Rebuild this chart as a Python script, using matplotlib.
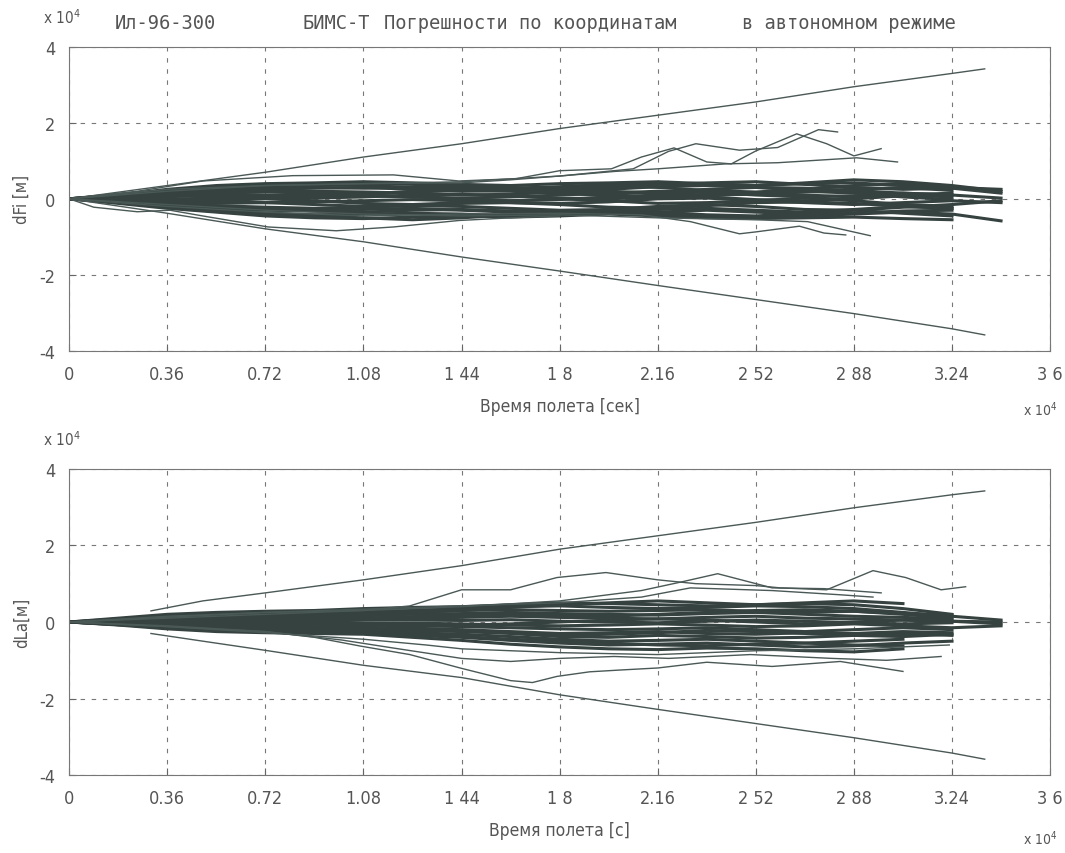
import matplotlib.pyplot as plt
import numpy as np

plt.rcParams['font.family'] = ['DejaVu Sans']
plt.rcParams['font.stretch'] = 'condensed'
plt.rcParams['axes.unicode_minus'] = False

# время, единицы 1e4 с
T = [0, 0.18, 0.36, 0.54, 0.72, 0.90, 1.08, 1.26, 1.44, 1.62,
     1.80, 1.98, 2.16, 2.34, 2.52, 2.70, 2.88, 3.06, 3.24, 3.42]

xticks = [0, 0.36, 0.72, 1.08, 1.44, 1.8, 2.16, 2.52, 2.88, 3.24, 3.6]
xticklabels = ['0', '0.36', '0.72', '1.08', '1 44', '1 8', '2.16', '2 52', '2 88', '3.24', '3 6']
yticks = [-4, -2, 0, 2, 4]

# ---------- dFi, единицы 1e4 м ----------
fi_band = [
    [0, 0.1, 0.25, 0.35, 0.4, 0.42, 0.45, 0.42, 0.38, 0.35, 0.4, 0.42, 0.45, 0.4, 0.35, 0.42, 0.5, 0.45, 0.35, 0.2],
    [0, 0.12, 0.22, 0.3, 0.32, 0.3, 0.28, 0.3, 0.33, 0.3, 0.25, 0.3, 0.38, 0.42, 0.45, 0.38, 0.3, 0.25, 0.28],
    [0, 0.08, 0.15, 0.2, 0.25, 0.28, 0.3, 0.25, 0.2, 0.22, 0.3, 0.35, 0.3, 0.22, 0.18, 0.25, 0.35, 0.4, 0.3, 0.25],
    [0, 0.05, 0.1, 0.15, 0.18, 0.15, 0.12, 0.18, 0.22, 0.2, 0.15, 0.12, 0.18, 0.25, 0.3, 0.28, 0.2, 0.1, 0.05],
    [0, 0.04, 0.06, 0.08, 0.05, 0.02, 0.05, 0.1, 0.12, 0.08, 0.02, 0.0, 0.05, 0.12, 0.15, 0.1, 0.05, 0.1, 0.15],
    [0, 0.02, 0.0, -0.02, 0.02, 0.06, 0.08, 0.05, 0.0, -0.05, -0.02, 0.05, 0.1, 0.05, -0.02, -0.05, 0.0, 0.08],
    [0, -0.02, -0.05, -0.08, -0.1, -0.08, -0.05, -0.02, -0.05, -0.1, -0.12, -0.08, 0.0, 0.02, -0.05, -0.1, -0.15, -0.1, -0.05, -0.1],
    [0, -0.05, -0.1, -0.12, -0.1, -0.15, -0.2, -0.18, -0.12, -0.1, -0.15, -0.22, -0.25, -0.18, -0.1, -0.08, -0.12, -0.2, -0.25],
    [0, -0.06, -0.12, -0.18, -0.22, -0.25, -0.22, -0.18, -0.2, -0.25, -0.3, -0.28, -0.2, -0.15, -0.2, -0.28, -0.3, -0.22, -0.15, -0.05],
    [0, -0.08, -0.18, -0.25, -0.3, -0.32, -0.35, -0.3, -0.28, -0.32, -0.35, -0.38, -0.35, -0.3, -0.35, -0.4, -0.38, -0.32, -0.3],
    [0, -0.1, -0.2, -0.3, -0.38, -0.42, -0.4, -0.38, -0.4, -0.45, -0.42, -0.38, -0.4, -0.45, -0.48, -0.45, -0.4, -0.35, -0.4, -0.58],
    [0, -0.12, -0.25, -0.35, -0.45, -0.5, -0.52, -0.48, -0.45, -0.48, -0.45, -0.4, -0.45, -0.5, -0.52, -0.5, -0.48, -0.52, -0.55],
    [0, 0.06, 0.12, 0.18, 0.22, 0.2, 0.18, 0.15, 0.1, 0.12, 0.18, 0.2, 0.15, 0.1, 0.12, 0.18, 0.22, 0.15, 0.1],
    [0, -0.03, -0.02, 0.03, 0.08, 0.12, 0.1, 0.05, 0.02, 0.05, 0.1, 0.15, 0.2, 0.18, 0.1, 0.05, 0.08, 0.15, 0.1, 0.02],
    [0, -0.04, -0.08, -0.05, 0.0, -0.05, -0.12, -0.15, -0.1, -0.05, 0.0, -0.05, -0.12, -0.1, -0.05, 0.02, -0.05, -0.15, -0.2],
    [0, 0.1, 0.2, 0.28, 0.35, 0.38, 0.35, 0.3, 0.28, 0.25, 0.2, 0.25, 0.32, 0.35, 0.3, 0.22, 0.25, 0.3, 0.22],
    [0, -0.07, -0.15, -0.22, -0.28, -0.3, -0.28, -0.25, -0.3, -0.35, -0.38, -0.32, -0.28, -0.25, -0.3, -0.35, -0.28, -0.2, -0.25],
    [0, 0.03, 0.08, 0.12, 0.1, 0.08, 0.12, 0.2, 0.25, 0.22, 0.15, 0.08, 0.05, 0.08, 0.15, 0.2, 0.15, 0.05, -0.02],
    [0, -0.09, -0.22, -0.32, -0.4, -0.45, -0.5, -0.55, -0.5, -0.42, -0.35, -0.3, -0.35, -0.42, -0.45, -0.38, -0.3, -0.38, -0.45],
    [0, 0.09, 0.18, 0.25, 0.3, 0.35, 0.4, 0.38, 0.32, 0.28, 0.32, 0.38, 0.42, 0.38, 0.35, 0.4, 0.42, 0.35, 0.28, 0.15],
]

# отдельные траектории dFi (время, значение)
fi_up1_t = [0, 0.25, 0.49, 0.82, 1.19, 1.43, 1.64, 1.8, 1.99, 2.1, 2.22, 2.34, 2.43, 2.52, 2.67, 2.78, 2.88, 2.98]
fi_up1_v = [0, 0.2, 0.47, 0.61, 0.63, 0.47, 0.53, 0.74, 0.79, 1.1, 1.34, 0.97, 0.92, 1.26, 1.71, 1.45, 1.13, 1.32]
fi_up2_t = [0, 0.36, 0.72, 1.08, 1.44, 1.8, 2.07, 2.2, 2.3, 2.46, 2.6, 2.75, 2.82]
fi_up2_v = [0, 0.25, 0.35, 0.4, 0.45, 0.6, 0.79, 1.25, 1.45, 1.28, 1.35, 1.82, 1.76]
fi_up3_t = [0, 0.36, 0.72, 1.08, 1.44, 1.62, 1.8, 2.0, 2.16, 2.41, 2.6, 2.89, 3.04]
fi_up3_v = [0, 0.2, 0.35, 0.4, 0.42, 0.5, 0.6, 0.72, 0.79, 0.92, 0.95, 1.08, 0.97]
fi_lo1_t = [0, 0.09, 0.25, 0.37, 0.49, 0.73, 0.98, 1.19, 1.43, 1.62, 1.8]
fi_lo1_v = [0, -0.22, -0.34, -0.3, -0.45, -0.74, -0.84, -0.74, -0.57, -0.5, -0.45]
fi_lo2_t = [0, 0.36, 0.72, 1.08, 1.44, 1.8, 2.1, 2.28, 2.46, 2.52, 2.68, 2.77, 2.85]
fi_lo2_v = [0, -0.2, -0.35, -0.45, -0.4, -0.38, -0.42, -0.6, -0.92, -0.87, -0.72, -0.9, -0.95]
fi_lo3_t = [0, 0.36, 0.72, 1.08, 1.44, 1.8, 2.16, 2.52, 2.71, 2.94]
fi_lo3_v = [0, -0.15, -0.3, -0.4, -0.45, -0.42, -0.5, -0.55, -0.6, -0.97]

# границы ошибки dFi
fi_bnd_t = [0, 0.36, 0.72, 1.08, 1.44, 1.8, 2.16, 2.52, 2.88, 3.24, 3.36]
fi_bnd_hi = [0, 0.35, 0.7, 1.1, 1.45, 1.85, 2.2, 2.55, 2.95, 3.3, 3.42]
fi_bnd_lo = [0, -0.38, -0.79, -1.13, -1.53, -1.9, -2.28, -2.65, -3.02, -3.42, -3.58]

# ---------- dLa, единицы 1e4 м ----------
la_band = [
    [0, 0.1, 0.2, 0.25, 0.28, 0.3, 0.35, 0.38, 0.4, 0.45, 0.5, 0.48, 0.45, 0.42, 0.45, 0.48, 0.45, 0.35, 0.2],
    [0, 0.08, 0.15, 0.2, 0.22, 0.25, 0.28, 0.3, 0.35, 0.4, 0.42, 0.38, 0.35, 0.38, 0.42, 0.4, 0.35, 0.25, 0.15, 0.05],
    [0, 0.06, 0.12, 0.15, 0.18, 0.2, 0.22, 0.25, 0.3, 0.32, 0.3, 0.28, 0.3, 0.32, 0.28, 0.25, 0.28, 0.2, 0.1],
    [0, 0.04, 0.08, 0.1, 0.12, 0.15, 0.18, 0.2, 0.22, 0.25, 0.22, 0.2, 0.18, 0.22, 0.25, 0.2, 0.15, 0.12, 0.08],
    [0, 0.02, 0.05, 0.06, 0.08, 0.1, 0.12, 0.1, 0.12, 0.15, 0.12, 0.1, 0.08, 0.12, 0.15, 0.1, 0.08, 0.05, 0.02, 0.0],
    [0, 0.0, 0.02, 0.02, 0.04, 0.05, 0.06, 0.05, 0.04, 0.06, 0.02, 0.0, -0.02, 0.02, 0.05, 0.02, -0.02, -0.05, -0.02],
    [0, -0.02, -0.02, -0.02, 0.0, 0.0, -0.02, -0.03, -0.05, -0.08, -0.1, -0.08, -0.05, -0.08, -0.12, -0.1, -0.05, -0.1, -0.15, -0.1],
    [0, -0.03, -0.05, -0.06, -0.05, -0.06, -0.08, -0.1, -0.12, -0.15, -0.18, -0.2, -0.18, -0.15, -0.2, -0.25, -0.2, -0.15, -0.2],
    [0, -0.04, -0.08, -0.1, -0.1, -0.12, -0.14, -0.16, -0.2, -0.25, -0.3, -0.28, -0.25, -0.3, -0.32, -0.28, -0.3, -0.25, -0.28],
    [0, -0.05, -0.1, -0.14, -0.15, -0.16, -0.18, -0.22, -0.25, -0.3, -0.38, -0.4, -0.35, -0.38, -0.42, -0.4, -0.35, -0.3, -0.35],
    [0, -0.06, -0.12, -0.18, -0.2, -0.22, -0.24, -0.28, -0.32, -0.38, -0.45, -0.5, -0.48, -0.45, -0.5, -0.55, -0.5, -0.45],
    [0, -0.07, -0.15, -0.22, -0.25, -0.28, -0.3, -0.35, -0.4, -0.48, -0.55, -0.6, -0.58, -0.55, -0.6, -0.65, -0.62, -0.55, -0.5],
    [0, -0.08, -0.18, -0.25, -0.28, -0.3, -0.32, -0.4, -0.48, -0.58, -0.65, -0.7, -0.72, -0.68, -0.7, -0.75, -0.78, -0.7],
    [0, 0.05, 0.1, 0.12, 0.15, 0.18, 0.2, 0.25, 0.3, 0.38, 0.45, 0.5, 0.55, 0.5, 0.45, 0.5, 0.55, 0.48],
    [0, -0.01, -0.03, -0.04, -0.03, -0.02, -0.04, -0.06, -0.08, -0.05, 0.0, 0.05, 0.08, 0.05, 0.0, -0.05, 0.0, 0.05, 0.02, -0.05],
    [0, 0.03, 0.06, 0.08, 0.1, 0.08, 0.1, 0.14, 0.18, 0.2, 0.18, 0.15, 0.2, 0.25, 0.3, 0.32, 0.28, 0.22, 0.18],
    [0, -0.05, -0.09, -0.12, -0.12, -0.14, -0.16, -0.2, -0.22, -0.28, -0.35, -0.32, -0.28, -0.22, -0.25, -0.3, -0.35, -0.38, -0.32],
    [0, -0.07, -0.13, -0.18, -0.22, -0.24, -0.26, -0.32, -0.38, -0.45, -0.5, -0.55, -0.6, -0.62, -0.58, -0.55, -0.6, -0.62],
]

la_up1_t = [0, 0.36, 0.72, 1.08, 1.25, 1.44, 1.62, 1.79, 1.97, 2.16, 2.3, 2.52, 2.61, 2.78, 2.95, 3.07, 3.2, 3.29]
la_up1_v = [0, 0.15, 0.25, 0.3, 0.42, 0.84, 0.84, 1.16, 1.29, 1.1, 1.0, 0.95, 0.89, 0.84, 1.34, 1.16, 0.84, 0.92]
la_up2_t = [0, 0.72, 1.44, 1.8, 2.1, 2.25, 2.38, 2.58, 2.77, 2.98]
la_up2_v = [0, 0.2, 0.4, 0.55, 0.82, 1.05, 1.26, 0.89, 0.87, 0.76]
la_up3_t = [0, 0.72, 1.44, 1.8, 2.1, 2.28, 2.58, 2.83, 2.95]
la_up3_v = [0, 0.25, 0.42, 0.5, 0.65, 0.89, 0.82, 0.71, 0.65]
la_lo1_t = [0, 0.36, 0.72, 0.9, 1.07, 1.25, 1.44, 1.62, 1.7, 1.79, 1.91, 2.03, 2.16, 2.34, 2.58, 2.83, 3.06]
la_lo1_v = [0, -0.1, -0.25, -0.4, -0.63, -0.85, -1.21, -1.53, -1.58, -1.42, -1.3, -1.25, -1.2, -1.05, -1.16, -1.03, -1.29]
la_lo2_t = [0, 0.36, 0.72, 1.0, 1.19, 1.44, 1.62, 1.8, 2.0, 2.2, 2.5, 2.8, 3.0, 3.2]
la_lo2_v = [0, -0.12, -0.25, -0.47, -0.68, -0.95, -1.03, -0.95, -0.9, -0.95, -0.85, -0.95, -1.0, -0.9]
la_lo3_t = [0, 0.36, 0.72, 1.08, 1.31, 1.44, 1.8, 2.16, 2.52, 2.88, 3.23]
la_lo3_v = [0, -0.12, -0.28, -0.45, -0.6, -0.7, -0.8, -0.85, -0.75, -0.7, -0.6]

la_bnd_t = [0.3, 0.49, 0.72, 1.08, 1.44, 1.8, 2.16, 2.52, 2.88, 3.24, 3.36]
la_bnd_hi = [0.29, 0.55, 0.76, 1.1, 1.47, 1.9, 2.25, 2.6, 2.98, 3.32, 3.42]
la_bnd_lo = [-0.3, -0.5, -0.74, -1.13, -1.45, -1.9, -2.28, -2.65, -3.02, -3.42, -3.58]

band_c = '#35423f'
line_c = '#4a5856'
text_c = '#555555'


def draw_panel(ax, band, extra, bnd_t, bnd_hi, bnd_lo, ylabel, xlabel):
    for v in band:
        ax.plot(T[:len(v)], v, color=band_c, lw=2.2)
    for t, v in extra:
        ax.plot(t, v, color=line_c, lw=1.0)
    ax.plot(bnd_t, bnd_hi, color=line_c, lw=1.0)
    ax.plot(bnd_t, bnd_lo, color=line_c, lw=1.0)
    ax.set_xlim(0, 3.6)
    ax.set_ylim(-4, 4)
    ax.set_xticks(xticks)
    ax.set_xticklabels(xticklabels)
    ax.set_yticks(yticks)
    ax.grid(True, color='#777777', ls=(0, (4, 6)), lw=0.8)
    ax.tick_params(direction='in', length=5, color='#666666', labelcolor=text_c,
                   labelsize=13, pad=10)
    for s in ax.spines.values():
        s.set_color('#777777')
    ax.set_ylabel(ylabel, color=text_c, fontsize=12, labelpad=6)
    ax.set_xlabel(xlabel, color=text_c, fontsize=12.5, labelpad=10)


fig = plt.figure(figsize=(10.65, 8.54), dpi=100)
ax1 = fig.add_axes([0.065, 0.588, 0.921, 0.356])
ax2 = fig.add_axes([0.065, 0.091, 0.921, 0.359])

draw_panel(ax1, fi_band,
           [(fi_up1_t, fi_up1_v), (fi_up2_t, fi_up2_v), (fi_up3_t, fi_up3_v),
            (fi_lo1_t, fi_lo1_v), (fi_lo2_t, fi_lo2_v), (fi_lo3_t, fi_lo3_v)],
           fi_bnd_t, fi_bnd_hi, fi_bnd_lo, 'dFi [м]', 'Время полета [сек]')
draw_panel(ax2, la_band,
           [(la_up1_t, la_up1_v), (la_up2_t, la_up2_v), (la_up3_t, la_up3_v),
            (la_lo1_t, la_lo1_v), (la_lo2_t, la_lo2_v), (la_lo3_t, la_lo3_v)],
           la_bnd_t, la_bnd_hi, la_bnd_lo, 'dLa[м]', 'Время полета [с]')

fig.text(0.04, 0.972, r'x 10$^4$', color=text_c, fontsize=11)
fig.text(0.04, 0.478, r'x 10$^4$', color=text_c, fontsize=11)
fig.text(0.993, 0.513, r'x 10$^4$', color=text_c, fontsize=10, ha='right')
fig.text(0.993, 0.010, r'x 10$^4$', color=text_c, fontsize=10, ha='right')

# заголовок
title_font = dict(color=text_c, fontsize=13.5, family='DejaVu Sans Mono')
fig.text(0.108, 0.966, 'Ил-96-300', **title_font)
fig.text(0.284, 0.966, 'БИМС-Т', **title_font)
fig.text(0.361, 0.966, 'Погрешности по координатам', **title_font)
fig.text(0.697, 0.966, 'в автономном режиме', **title_font)

plt.savefig('out.png', dpi=100)
